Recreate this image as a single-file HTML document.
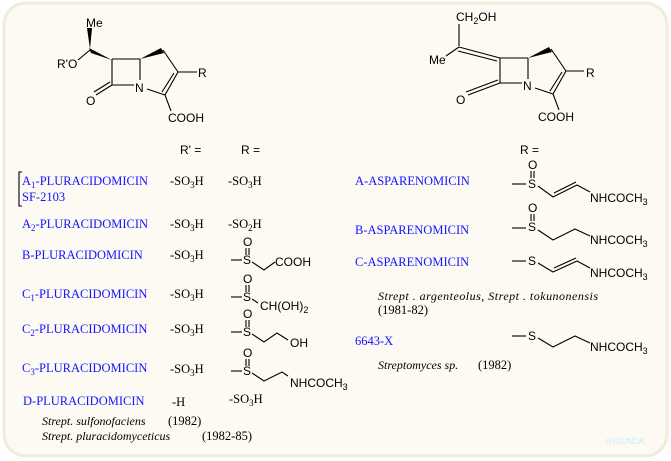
<!DOCTYPE html>
<html><head><meta charset="utf-8"><style>
html,body{margin:0;padding:0;background:#fff;}
svg{display:block;}
.s{font-family:"Liberation Sans",sans-serif;font-size:12px;fill:#000;}
.b{font-family:"Liberation Serif",serif;font-size:12.5px;fill:#1515ff;}
.t{font-family:"Liberation Serif",serif;font-size:12.5px;fill:#000;}
.i{font-family:"Liberation Serif",serif;font-size:12px;font-style:italic;fill:#000;}
.sub{font-size:9px;}
line,polyline{stroke:#000;stroke-width:1.1;fill:none;}
</style></head><body>
<svg width="671" height="461" viewBox="0 0 671 461" xmlns="http://www.w3.org/2000/svg">
<rect x="4" y="3" width="663" height="453" rx="22" fill="#fdf9f3" stroke="#efecda" stroke-width="3"/>

<!-- Left core structure -->
<text class="s" x="86" y="27">Me</text>
<polygon points="87,28 92,28 90,49" fill="#000"/>
<text class="s" x="57" y="68">R'O</text>
<line x1="78" y1="60" x2="90" y2="50"/>
<polygon points="89,48 91,53 112,60" fill="#000"/>
<polyline points="112,59 140,59"/>
<line x1="112" y1="59" x2="112" y2="85"/>
<line x1="140" y1="59" x2="140" y2="80"/>
<line x1="112" y1="85" x2="134" y2="85"/>
<line x1="112" y1="85" x2="96" y2="95"/>
<line x1="110" y1="82" x2="94" y2="92"/>
<text class="s" x="86" y="105">O</text>
<text class="s" x="135" y="92">N</text>
<polygon points="140,59 161,48 164,53" fill="#000"/>
<line x1="163" y1="50" x2="178" y2="72"/>
<line x1="178" y1="72" x2="165" y2="95"/>
<line x1="174" y1="73" x2="162" y2="92"/>
<line x1="147" y1="89" x2="165" y2="95"/>
<line x1="178" y1="72" x2="197" y2="72"/>
<text class="s" x="198" y="77">R</text>
<line x1="165" y1="95" x2="171" y2="111"/>
<text class="s" x="168" y="122">COOH</text>

<!-- Right core structure -->
<text class="s" x="456" y="21">CH<tspan class="sub" dy="3">2</tspan><tspan dy="-3">OH</tspan></text>
<line x1="459" y1="24" x2="459" y2="46"/>
<text class="s" x="429" y="64">Me</text>
<line x1="446" y1="56" x2="459" y2="47"/>
<line x1="459" y1="47" x2="500" y2="58"/>
<line x1="458" y1="51" x2="497" y2="61"/>
<line x1="500" y1="58" x2="528" y2="58"/>
<line x1="500" y1="58" x2="500" y2="83"/>
<line x1="528" y1="58" x2="528" y2="79"/>
<line x1="500" y1="83" x2="522" y2="83"/>
<line x1="500" y1="83" x2="468" y2="95"/>
<line x1="498" y1="80" x2="466" y2="92"/>
<text class="s" x="456" y="104">O</text>
<text class="s" x="523" y="90">N</text>
<polygon points="528,58 549,47 552,52" fill="#000"/>
<line x1="551" y1="49" x2="566" y2="71"/>
<line x1="566" y1="71" x2="553" y2="94"/>
<line x1="562" y1="72" x2="550" y2="91"/>
<line x1="535" y1="88" x2="553" y2="94"/>
<line x1="566" y1="71" x2="584" y2="71"/>
<text class="s" x="586" y="77">R</text>
<line x1="553" y1="94" x2="559" y2="110"/>
<text class="s" x="538" y="121">COOH</text>

<!-- Headers -->
<text class="s" x="180" y="154">R' =</text>
<text class="s" x="241" y="154">R =</text>
<text class="s" x="520" y="154">R =</text>

<!-- Left table -->
<polyline points="22,172 19,172 19,206 22,206"/>
<text class="b" x="22" y="185">A<tspan class="sub" dy="3">1</tspan><tspan dy="-3">-PLURACIDOMICIN</tspan></text>
<text class="b" x="22" y="201">SF-2103</text>
<text class="t" x="170" y="185">-SO<tspan class="sub" dy="3">3</tspan><tspan dy="-3">H</tspan></text>
<text class="t" x="228" y="185">-SO<tspan class="sub" dy="3">3</tspan><tspan dy="-3">H</tspan></text>

<text class="b" x="22" y="228">A<tspan class="sub" dy="3">2</tspan><tspan dy="-3">-PLURACIDOMICIN</tspan></text>
<text class="t" x="170" y="228">-SO<tspan class="sub" dy="3">3</tspan><tspan dy="-3">H</tspan></text>
<text class="t" x="228" y="228">-SO<tspan class="sub" dy="3">2</tspan><tspan dy="-3">H</tspan></text>

<text class="b" x="22" y="259">B-PLURACIDOMICIN</text>
<text class="t" x="170" y="259">-SO<tspan class="sub" dy="3">3</tspan><tspan dy="-3">H</tspan></text>
<text class="s" x="243" y="246">O</text>
<line x1="246" y1="248" x2="246" y2="255"/><line x1="249" y1="248" x2="249" y2="255"/>
<text class="s" x="243" y="264">S</text>
<line x1="231" y1="260" x2="242" y2="260"/>
<polyline points="252,262 264,270 275,262"/>
<text class="s" x="275" y="266">COOH</text>

<text class="b" x="22" y="298">C<tspan class="sub" dy="3">1</tspan><tspan dy="-3">-PLURACIDOMICIN</tspan></text>
<text class="t" x="170" y="298">-SO<tspan class="sub" dy="3">3</tspan><tspan dy="-3">H</tspan></text>
<text class="s" x="243" y="283">O</text>
<line x1="246" y1="285" x2="246" y2="292"/><line x1="249" y1="285" x2="249" y2="292"/>
<text class="s" x="243" y="301">S</text>
<line x1="231" y1="297" x2="242" y2="297"/>
<line x1="252" y1="299" x2="258" y2="303"/>
<text class="s" x="260" y="310">CH(OH)<tspan class="sub" dy="3">2</tspan></text>

<text class="b" x="22" y="333">C<tspan class="sub" dy="3">2</tspan><tspan dy="-3">-PLURACIDOMICIN</tspan></text>
<text class="t" x="170" y="333">-SO<tspan class="sub" dy="3">3</tspan><tspan dy="-3">H</tspan></text>
<text class="s" x="243" y="318">O</text>
<line x1="246" y1="320" x2="246" y2="327"/><line x1="249" y1="320" x2="249" y2="327"/>
<text class="s" x="243" y="336">S</text>
<line x1="231" y1="332" x2="242" y2="332"/>
<polyline points="252,334 264,342 277,333 288,340"/>
<text class="s" x="290" y="347">OH</text>

<text class="b" x="22" y="372">C<tspan class="sub" dy="3">3</tspan><tspan dy="-3">-PLURACIDOMICIN</tspan></text>
<text class="t" x="170" y="373">-SO<tspan class="sub" dy="3">3</tspan><tspan dy="-3">H</tspan></text>
<text class="s" x="243" y="357">O</text>
<line x1="246" y1="359" x2="246" y2="366"/><line x1="249" y1="359" x2="249" y2="366"/>
<text class="s" x="243" y="375">S</text>
<line x1="231" y1="371" x2="242" y2="371"/>
<polyline points="252,373 264,381 282,372 288,376"/>
<text class="s" x="290" y="387">NHCOCH<tspan class="sub" dy="3">3</tspan></text>

<text class="b" x="23" y="405">D-PLURACIDOMICIN</text>
<text class="t" x="172" y="406">-H</text>
<text class="t" x="229" y="403">-SO<tspan class="sub" dy="3">3</tspan><tspan dy="-3">H</tspan></text>

<text class="i" x="42" y="425">Strept. sulfonofaciens</text>
<text class="t" x="168" y="425">(1982)</text>
<text class="i" x="42" y="440">Strept. pluracidomyceticus</text>
<text class="t" x="202" y="440">(1982-85)</text>

<!-- Right table -->
<text class="b" x="355" y="185">A-ASPARENOMICIN</text>
<text class="s" x="528" y="169">O</text>
<line x1="531" y1="171" x2="531" y2="178"/><line x1="534" y1="171" x2="534" y2="178"/>
<text class="s" x="528" y="188">S</text>
<line x1="512" y1="184" x2="526" y2="184"/>
<polyline points="538,186 553,197 577,185 590,192"/>
<line x1="554" y1="193" x2="576" y2="182"/>
<text class="s" x="590" y="202">NHCOCH<tspan class="sub" dy="3">3</tspan></text>

<text class="b" x="355" y="234">B-ASPARENOMICIN</text>
<text class="s" x="528" y="212">O</text>
<line x1="531" y1="214" x2="531" y2="221"/><line x1="534" y1="214" x2="534" y2="221"/>
<text class="s" x="528" y="231">S</text>
<line x1="512" y1="228" x2="526" y2="228"/>
<polyline points="538,230 553,240 575,229 590,236"/>
<text class="s" x="590" y="244">NHCOCH<tspan class="sub" dy="3">3</tspan></text>

<text class="b" x="355" y="266">C-ASPARENOMICIN</text>
<text class="s" x="528" y="265">S</text>
<line x1="512" y1="261" x2="526" y2="261"/>
<polyline points="538,263 553,272 577,261 590,268"/>
<line x1="554" y1="268" x2="576" y2="258"/>
<text class="s" x="590" y="277">NHCOCH<tspan class="sub" dy="3">3</tspan></text>

<text class="i" x="378" y="300" textLength="220">Strept . argenteolus, Strept . tokunonensis</text>
<text class="t" x="378" y="314">(1981-82)</text>

<text class="b" x="355" y="345">6643-X</text>
<text class="s" x="528" y="340">S</text>
<line x1="512" y1="336" x2="526" y2="336"/>
<polyline points="538,338 553,347 575,336 590,343"/>
<text class="s" x="590" y="351">NHCOCH<tspan class="sub" dy="3">3</tspan></text>

<text class="i" x="378" y="369">Streptomyces sp.</text>
<text class="t" x="478" y="369">(1982)</text>

<text x="606" y="444" font-family="Liberation Sans,sans-serif" font-size="8" fill="#bfeff8">(c)GUNDA</text>
</svg>
</body></html>
